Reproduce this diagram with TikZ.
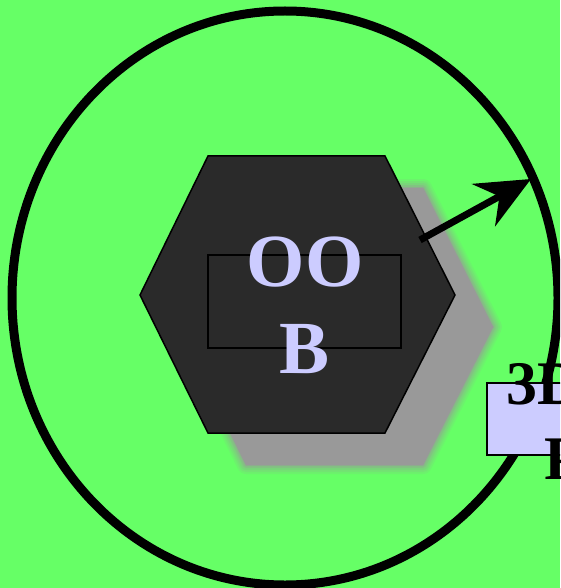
\documentclass[tikz,border=0pt]{standalone}
\usepackage{fontspec}
\setmainfont{Liberation Serif}
\usetikzlibrary{arrows.meta}
\definecolor{bg}{HTML}{66FF66}
\definecolor{hexfill}{HTML}{2A2A2A}
\definecolor{lav}{HTML}{CCCCFF}
\definecolor{shad}{HTML}{999999}
\tikzset{
  px/.style={x=1pt,y=-1pt},
  hexbox/.style={fill=hexfill,draw=black,line width=1.5pt},
  bigtext/.style={font=\bfseries\fontsize{75}{87}\selectfont,text=lav,align=center},
  sidetext/.style={font=\bfseries\fontsize{62}{78}\selectfont,text=black,align=center},
}
\begin{document}
\begin{tikzpicture}[px]
\useasboundingbox (0,0) rectangle (560,588);
\fill[bg] (0,0) rectangle (560,588);
\begin{scope}
\clip (0,0) rectangle (560,588);
% blurred shadow
\def\shadowpath{(178,327)--(246,188)--(423,188)--(493,327)--(423,465)--(246,465)--cycle}
\foreach \w/\o in {18/0.12,14/0.15,10/0.2,6/0.3,2/0.5}{
  \draw[shad,line width=\w pt,line join=round,opacity=\o] \shadowpath;
}
\fill[shad] \shadowpath;
% hexagon
\path[hexbox] (140,295)--(208,156)--(385,156)--(455,295)--(385,433)--(208,433)--cycle;
\node[draw=black,line width=1.5pt,minimum width=193pt,minimum height=93pt,inner sep=0pt] (inner) at (304.5,301.5) {};
\node[bigtext] (label) at (305,305) {OO\\B};
% circle
\draw[line width=9pt] (285,298) ellipse [x radius=273, y radius=287];
\coordinate (arrS) at (420,240);
\coordinate (arrE) at (531,179);
\draw[line width=7pt,-{Stealth[length=54pt,width=48pt,inset=18pt]}] (arrS) -- (arrE);
% side box
\node[draw=black,line width=2pt,fill=lav,minimum width=120pt,minimum height=72pt,inner sep=0pt,anchor=north west] (side) at (486,382) {};
\node[sidetext,anchor=base west] (sidetxt) at (503,404) {3D};
\node[sidetext,anchor=base west] (sidetxt2) at (541,479) {P};
\end{scope}
\end{tikzpicture}
\end{document}
